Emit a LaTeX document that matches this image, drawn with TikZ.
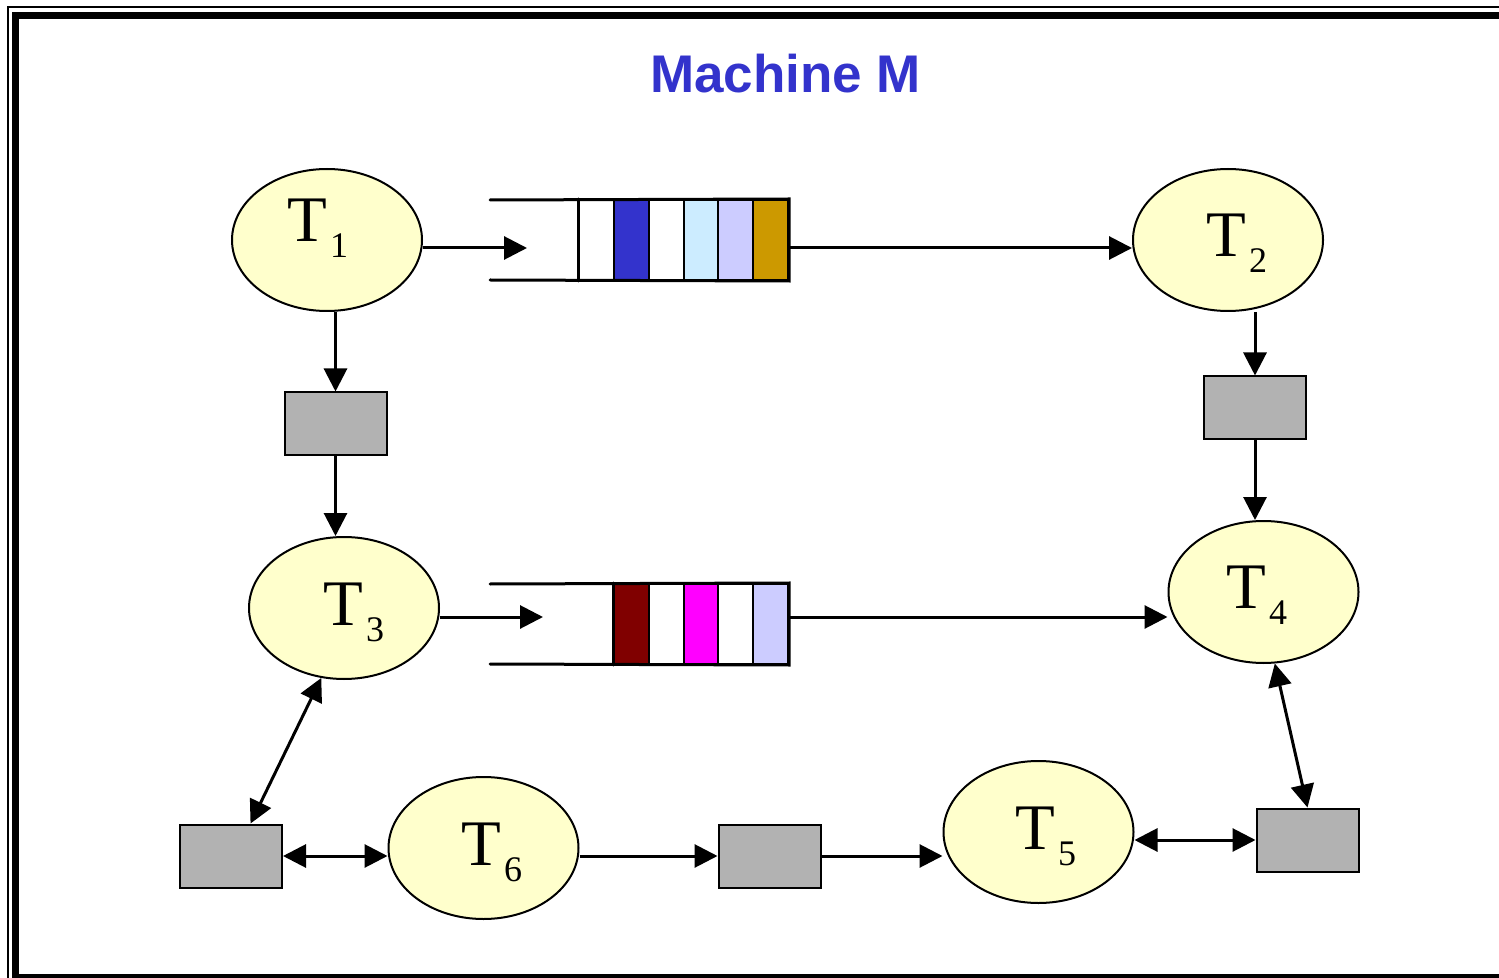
\documentclass[tikz,border=0pt]{standalone}
\usepackage{fontspec}
\setmainfont{Liberation Serif}
\newfontfamily\headfont{Liberation Sans}
\usetikzlibrary{positioning,arrows.meta,shapes.geometric,calc}
\definecolor{taskyellow}{HTML}{FFFFCC}
\definecolor{bufgray}{HTML}{B2B2B2}
\definecolor{headblue}{HTML}{3333CC}
\definecolor{msgblue}{HTML}{3333CC}
\definecolor{msgcyan}{HTML}{CCECFF}
\definecolor{msglilac}{HTML}{CCCCFF}
\definecolor{msggold}{HTML}{CC9900}
\definecolor{msgmaroon}{HTML}{800000}
\definecolor{msgpink}{HTML}{FF00FF}

% task name with a big lowered index
\newcommand{\tname}[1]{T\kern1.5pt\raisebox{-8pt}{\fontsize{18}{20}\selectfont #1}}

\begin{document}
\begin{tikzpicture}[x=0.5pt, y=-0.5pt,
    task/.style={ellipse, draw, line width=1pt, fill=taskyellow, minimum width=95pt, minimum height=71pt, inner sep=0pt},
    buf/.style={rectangle, draw, line width=1pt, fill=bufgray, minimum width=51pt, minimum height=31.5pt, inner sep=0pt},
    cell/.style={rectangle, draw, line width=1pt, minimum width=17.4pt, minimum height=40pt, inner sep=0pt},
    qline/.style={line width=1.5pt, line cap=round},
    label/.style={anchor=base west, inner sep=0pt, font=\fontsize{32.5}{36}\selectfont},
    flow/.style={-{Triangle[length=11.5pt,width=11.5pt]}, line width=1.5pt},
    link/.style={{Triangle[length=11.5pt,width=11.5pt]}-{Triangle[length=11.5pt,width=11.5pt]}, line width=1.5pt}]
    \useasboundingbox (0,0) rectangle (1499,978);

    % frame of the machine
    \draw[line width=1pt] (7.5,7.5) rectangle (1520,995);
    \draw[line width=3.5pt] (15.5,16) rectangle (1506,977);
    \node[font=\headfont\bfseries\fontsize{26.5}{30}\selectfont, text=headblue, anchor=base, inner sep=0pt] (head) at (785.5,93) {Machine M};

    % tasks
    \node[task] (t1) at (327,240) {};
    \node[task] (t2) at (1228,240) {};
    \node[task] (t3) at (344,608) {};
    \node[task] (t4) at (1263.5,592) {};
    \node[task] (t5) at (1038.5,832) {};
    \node[task] (t6) at (483.5,848) {};
    \node[label] (n1) at (287,242) {\tname{1}};
    \node[label] (n2) at (1206,257) {\tname{2}};
    \node[label] (n3) at (323,625) {\tname{3}};
    \node[label] (n4) at (1226,608) {\tname{4}};
    \node[label] (n5) at (1015,849) {\tname{5}};
    \node[label] (n6) at (461,865) {\tname{6}};

    % shared buffers
    \node[buf] (b1) at (335.5,424) {};
    \node[buf] (b2) at (1255,408) {};
    \node[buf] (b3) at (231,856) {};
    \node[buf] (b4) at (769.5,856) {};
    \node[buf] (b5) at (1307.5,840) {};

    % message queues
    \foreach \col [count=\i] in {white,msgblue,white,msgcyan,msglilac,msggold}
      \node[cell, fill=\col] (qa\i) at ({579.2+34.8*\i-17.4},240) {};
    \draw[qline] (490,200) -- (qa6.north east) -- (qa6.south east) -- (490,280);
    \draw[qline] (qa1.north west) -- (qa1.south west);
    \foreach \col [count=\i] in {msgmaroon,white,msgpink,white,msglilac}
      \node[cell, fill=\col] (qb\i) at ({614+34.8*\i-17.4},624) {};
    \draw[qline] (490,584) -- (qb5.north east) -- (qb5.south east) -- (490,664);
    \draw[qline] (qb1.north west) -- (qb1.south west);
    \coordinate (q1in) at (527,248);
    \coordinate (q2in) at (543,617);

    % connections
    \draw[flow] (t1.east |- q1in) -- (q1in);
    \draw[flow] (qa6.east |- q1in) -- (t2.west |- q1in);
    \draw[flow] (t3.east |- q2in) -- (q2in);
    \draw[flow] (qb5.east |- q2in) -- (t4.west |- q2in);
    \draw[flow] (b1.north |- t1.south) -- (b1.north);
    \draw[flow] (b1.south) -- (b1.south |- t3.north);
    \draw[flow] (b2.north |- t2.south) -- (b2.north);
    \draw[flow] (b2.south) -- (b2.south |- t4.north);
    \draw[link] (t3.252) -- (b3.59);
    \draw[link] (b3.east) -- (t6.west |- b3.east);
    \draw[flow] (t6.east |- b4.west) -- (b4.west);
    \draw[flow] (b4.east) -- (t5.west |- b4.east);
    \draw[link] (t5.east |- b5.west) -- (b5.west);
    \draw[link] (t4.279) -- (b5.north);
\end{tikzpicture}
\end{document}
